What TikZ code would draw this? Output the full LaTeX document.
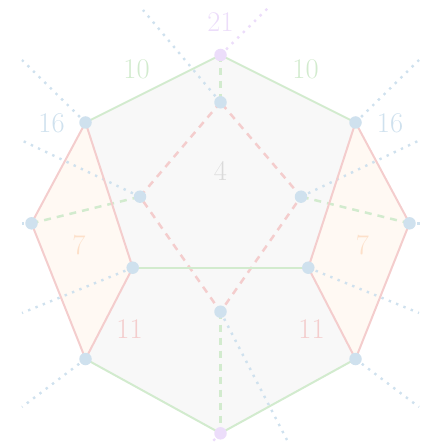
\documentclass[tikz,border=0pt]{standalone}
\begin{document}
\begin{tikzpicture}[x=1pt,y=-1pt,
  vtx/.style={circle,inner sep=0pt,minimum size=12.5pt,fill=#1},
  vtx/.default=cblue,
  gline/.style={draw=cgreen,line width=2pt},
  rline/.style={draw=cred,line width=2pt},
  gdash/.style={draw=cgreen,line width=2.5pt,dash pattern=on 7pt off 6pt},
  rdash/.style={draw=cred,line width=2.5pt,dash pattern=on 7pt off 6pt},
  bdot/.style={draw=cblue,line width=2.4pt,dash pattern=on 2.4pt off 5.5pt},
  pdot/.style={draw=cpurple,line width=2.4pt,dash pattern=on 2.4pt off 5.5pt},
  lab/.style={font=\fontsize{28.5}{28.5}\selectfont,inner sep=0pt}]
\definecolor{cgreen}{HTML}{D2EBCE}
\definecolor{cred}{HTML}{F4CDCD}
\definecolor{cblue}{HTML}{CFE1EE}
\definecolor{cpurple}{HTML}{ECDDFA}
\definecolor{cgray}{HTML}{F8F8F8}
\definecolor{corange}{HTML}{FFF9F3}
\definecolor{tgray}{HTML}{DADADA}
\definecolor{torange}{HTML}{FDE0C9}
\useasboundingbox (0,0) rectangle (421,446);
% coordinates
\coordinate (T) at (220.5,55);
\coordinate (UL) at (85.5,122.5);
\coordinate (UR) at (355.5,122.5);
\coordinate (L) at (31.5,223.3);
\coordinate (R) at (409.5,223.3);
\coordinate (IL) at (132.7,267.7);
\coordinate (IR) at (308.3,267.7);
\coordinate (LL) at (85.5,359);
\coordinate (LR) at (355.5,359);
\coordinate (B) at (220.5,433.3);
\coordinate (IT) at (220.5,102.3);
\coordinate (IC) at (140,196.7);
\coordinate (JC) at (301,196.7);
\coordinate (IB) at (220.5,311.7);
% fills
\fill[cgray] (T) -- (UR) -- (IR) -- (LR) -- (B) -- (LL) -- (IL) -- (UL) -- cycle;
\fill[corange] (UL) -- (L) -- (LL) -- (IL) -- cycle;
\fill[corange] (UR) -- (R) -- (LR) -- (IR) -- cycle;
% free ends of dotted rays
\coordinate (eUL) at (22,60);
\coordinate (eIC) at (23,141);
\coordinate (eIT) at (143,10);
\coordinate (eT) at (268,8);
\coordinate (eUR) at (419,60);
\coordinate (eJC) at (418,141);
\coordinate (eIR) at (419,313);
\coordinate (eLR) at (419,407);
\coordinate (eIB) at (287,440);
\coordinate (eB) at (213,441);
\coordinate (eIL) at (22,313);
\coordinate (eLL) at (22,407);
\coordinate (eL) at (22,223.3);
\coordinate (eR) at (420,223.3);
% dotted rays
\draw[bdot] (UL) -- (eUL);
\draw[bdot] (IC) -- (eIC);
\draw[bdot] (IT) -- (eIT);
\draw[pdot] (T) -- (eT);
\draw[bdot] (UR) -- (eUR);
\draw[bdot] (JC) -- (eJC);
\draw[bdot] (IR) -- (eIR);
\draw[bdot] (LR) -- (eLR);
\draw[bdot] (IB) -- (eIB);
\draw[pdot] (B) -- (eB);
\draw[bdot] (IL) -- (eIL);
\draw[bdot] (LL) -- (eLL);
\draw[bdot] (L) -- (eL);
\draw[bdot] (R) -- (eR);
% dashed
\draw[gdash] (T) -- (IT);
\draw[gdash] (L) -- (IC);
\draw[gdash] (R) -- (JC);
\draw[gdash] (IB) -- (B);
\draw[rdash] (IT) -- (IC) -- (IB) -- (JC) -- cycle;
% solid
\draw[gline] (UL) -- (T) -- (UR);
\draw[gline] (LL) -- (B) -- (LR);
\draw[gline] (IL) -- (IR);
\draw[rline] (UL) -- (L) -- (LL) -- (IL) -- cycle;
\draw[rline] (UR) -- (R) -- (LR) -- (IR) -- cycle;
% vertices
\node[vtx=cpurple] (nT) at (T) {};
\node[vtx=cpurple] (nB) at (B) {};
\foreach \p in {UL,UR,L,R,IL,IR,LL,LR,IT,IC,JC,IB} \node[vtx] (n\p) at (\p) {};
% labels
\node[lab,text=cpurple] (l21) at (220.5,22) {21};
\node[lab,text=cgreen] (l10a) at (136.5,69.5) {10};
\node[lab,text=cgreen] (l10b) at (305.5,69.5) {10};
\node[lab,text=cblue] (l16a) at (51.5,123.5) {16};
\node[lab,text=cblue] (l16b) at (390,123.5) {16};
\node[lab,text=tgray] (l4) at (220.5,170.5) {4};
\node[lab,text=torange] (l7a) at (79,245) {7};
\node[lab,text=torange] (l7b) at (362.5,245) {7};
\node[lab,text=cred] (l11a) at (129.5,329.5) {11};
\node[lab,text=cred] (l11b) at (311.5,329.5) {11};
\end{tikzpicture}
\end{document}
